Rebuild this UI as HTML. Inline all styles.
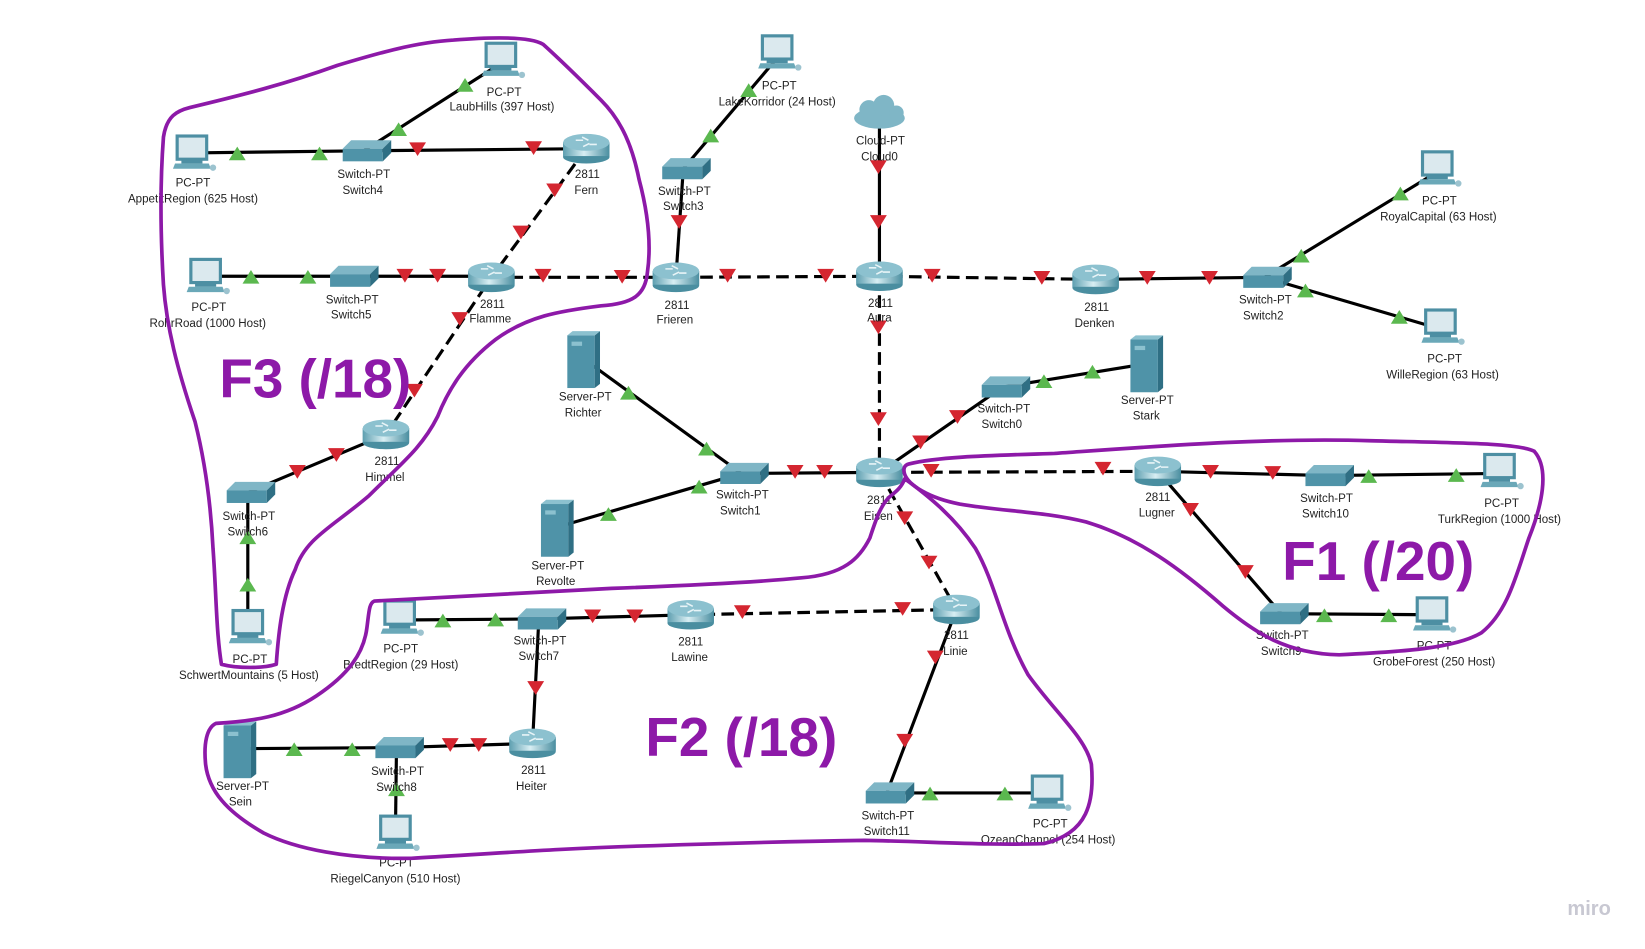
<!DOCTYPE html>
<html><head><meta charset="utf-8"><style>
html,body{margin:0;padding:0;background:#fff;}
svg{display:block}
text{font-family:"Liberation Sans",sans-serif;font-size:11px;fill:#222;text-anchor:middle}
.big{font-family:"Liberation Sans",sans-serif;font-weight:bold;font-size:52px;fill:#8d19a8;text-anchor:start}
</style></head><body>
<svg width="1645" height="949" viewBox="0 0 1560 900" preserveAspectRatio="none" xmlns="http://www.w3.org/2000/svg">
<defs>
<linearGradient id="rg" x1="0" x2="1"><stop offset="0" stop-color="#5e9fb0"/><stop offset=".45" stop-color="#d8eef3"/><stop offset="1" stop-color="#4a8ea0"/></linearGradient>
<g id="pc"><rect x="-14" y="-16" width="28" height="22" fill="#dbe9ee" stroke="#4d8fa3" stroke-width="3"/><rect x="-10" y="6" width="20" height="4" fill="#4d8fa3"/><polygon points="-16,10 16,10 18,15 -18,15" fill="#6aa8b8"/><circle cx="20" cy="14" r="3" fill="#9cc3cf"/></g>
<g id="sw"><polygon points="-20,-4 -12,-12 26,-12 18,-4" fill="#7fb6c6"/><rect x="-20" y="-4" width="38" height="12" fill="#4f93a8"/><polygon points="18,-4 26,-12 26,0 18,8" fill="#2f6f84"/></g>
<g id="rt"><rect x="-22" y="-6" width="44" height="14" fill="url(#rg)"/><ellipse cx="0" cy="8" rx="22" ry="6" fill="#4a8ea0"/><rect x="-22" y="-6" width="44" height="13" fill="url(#rg)"/><ellipse cx="0" cy="-6" rx="22" ry="8" fill="#8cc1cf"/><path d="M-10,-8 h7 M3,-4 h7 M-4,-11 l6,3 M-3,-2 l6,-3" stroke="#e8f4f7" stroke-width="1.5"/></g>
<g id="sv"><rect x="-15" y="-24" width="26" height="50" fill="#4f93a8"/><polygon points="11,-24 16,-28 16,22 11,26" fill="#2f6f84"/><polygon points="-15,-24 -10,-28 16,-28 11,-24" fill="#8cc1cf"/><rect x="-11" y="-18" width="10" height="4" fill="#8cc1cf"/></g>
<polygon id="g" points="0,-7 8,6 -8,6" fill="#5bb84f"/>
<polygon id="r" points="-8,-6 8,-6 0,7" fill="#d42630"/>
</defs>

<g stroke="#000" stroke-width="3" fill="none">
<path d="M182,145 L345,143 L556,141"/>
<path d="M345,143 L475,60"/>
<path d="M195,262 L466,262"/>
<path d="M648,160 L737,55"/>
<path d="M648,160 L641,263"/>
<path d="M834,110 L834,262"/>
<path d="M1039,265 L1199,263 L1363,163"/>
<path d="M1199,263 L1366,312"/>
<path d="M553,340 L703,449 L834,448"/>
<path d="M528,500 L703,449"/>
<path d="M834,448 L951,367 L1087,345"/>
<path d="M366,412 L235,467 L235,595"/>
<path d="M1098,447 L1258,451 L1422,449"/>
<path d="M1098,447 L1215,582 L1358,583"/>
<path d="M655,583 L511,587 L379,588"/>
<path d="M511,587 L505,705 L376,709 L227,710"/>
<path d="M376,709 L375,790"/>
<path d="M907,578 L841,752 L993,752"/>
</g>
<g stroke="#000" stroke-width="3" fill="none" stroke-dasharray="12,6">
<path d="M556,141 L466,263 L366,412"/>
<path d="M466,263 L641,263 L834,262 L1039,265"/>
<path d="M834,262 L834,448 L1098,447"/>
<path d="M834,448 L907,578 L655,583"/>
</g>

<use href="#g" x="225" y="146"/><use href="#g" x="303" y="146"/><use href="#r" x="396" y="141"/><use href="#r" x="506" y="140"/>
<use href="#g" x="378" y="123"/><use href="#g" x="441" y="81"/>
<use href="#r" x="526" y="180"/><use href="#r" x="494" y="220"/>
<use href="#g" x="238" y="263"/><use href="#g" x="292" y="263"/><use href="#r" x="384" y="261"/><use href="#r" x="415" y="261"/>
<use href="#r" x="515" y="261"/><use href="#r" x="590" y="262"/>
<use href="#r" x="436" y="302"/><use href="#r" x="393" y="370"/>
<use href="#r" x="319" y="431"/><use href="#r" x="282" y="447"/>
<use href="#g" x="235" y="510"/><use href="#g" x="235" y="555"/>
<use href="#g" x="674" y="129"/><use href="#g" x="710" y="86"/>
<use href="#r" x="644" y="210"/>
<use href="#r" x="690" y="261"/><use href="#r" x="783" y="261"/>
<use href="#r" x="833" y="158"/><use href="#r" x="833" y="210"/>
<use href="#r" x="884" y="261"/><use href="#r" x="988" y="263"/>
<use href="#r" x="1088" y="263"/><use href="#r" x="1147" y="263"/>
<use href="#g" x="1234" y="243"/><use href="#g" x="1328" y="184"/>
<use href="#g" x="1238" y="276"/><use href="#g" x="1327" y="301"/>
<use href="#r" x="833" y="310"/><use href="#r" x="833" y="397"/>
<use href="#g" x="596" y="373"/><use href="#g" x="670" y="426"/>
<use href="#g" x="577" y="488"/><use href="#g" x="663" y="462"/>
<use href="#r" x="754" y="447"/><use href="#r" x="782" y="447"/>
<use href="#r" x="873" y="419"/><use href="#r" x="908" y="395"/>
<use href="#g" x="990" y="362"/><use href="#g" x="1036" y="353"/>
<use href="#r" x="883" y="446"/><use href="#r" x="1046" y="444"/>
<use href="#r" x="1148" y="447"/><use href="#r" x="1207" y="448"/>
<use href="#g" x="1298" y="452"/><use href="#g" x="1381" y="451"/>
<use href="#r" x="1129" y="483"/><use href="#r" x="1181" y="542"/>
<use href="#g" x="1256" y="584"/><use href="#g" x="1317" y="584"/>
<use href="#r" x="858" y="491"/><use href="#r" x="881" y="533"/>
<use href="#r" x="856" y="577"/><use href="#r" x="704" y="580"/>
<use href="#r" x="602" y="584"/><use href="#r" x="562" y="584"/>
<use href="#g" x="470" y="588"/><use href="#g" x="420" y="589"/>
<use href="#r" x="508" y="652"/>
<use href="#r" x="454" y="706"/><use href="#r" x="427" y="706"/>
<use href="#g" x="334" y="711"/><use href="#g" x="279" y="711"/>
<use href="#g" x="376" y="749"/>
<use href="#r" x="887" y="623"/><use href="#r" x="858" y="702"/>
<use href="#g" x="882" y="753"/><use href="#g" x="953" y="753"/>

<use href="#pc" x="475" y="57"/><use href="#pc" x="182" y="145"/><use href="#pc" x="195" y="262"/><use href="#pc" x="737" y="50"/>
<use href="#pc" x="1363" y="160"/><use href="#pc" x="1366" y="310"/><use href="#pc" x="235" y="595"/><use href="#pc" x="1422" y="447"/>
<use href="#pc" x="1358" y="583"/><use href="#pc" x="379" y="586"/><use href="#pc" x="375" y="790"/><use href="#pc" x="993" y="752"/>
<use href="#sw" x="345" y="145"/><use href="#sw" x="333" y="264"/><use href="#sw" x="648" y="162"/><use href="#sw" x="1199" y="265"/>
<use href="#sw" x="951" y="369"/><use href="#sw" x="703" y="451"/><use href="#sw" x="235" y="469"/><use href="#sw" x="1258" y="453"/>
<use href="#sw" x="1215" y="584"/><use href="#sw" x="511" y="589"/><use href="#sw" x="376" y="711"/><use href="#sw" x="841" y="754"/>
<use href="#rt" x="556" y="141"/><use href="#rt" x="466" y="263"/><use href="#rt" x="641" y="263"/><use href="#rt" x="834" y="262"/>
<use href="#rt" x="1039" y="265"/><use href="#rt" x="834" y="448"/><use href="#rt" x="366" y="412"/><use href="#rt" x="1098" y="447"/>
<use href="#rt" x="907" y="578"/><use href="#rt" x="655" y="583"/><use href="#rt" x="505" y="705"/>
<use href="#sv" x="553" y="342"/><use href="#sv" x="1087" y="346"/><use href="#sv" x="528" y="502"/><use href="#sv" x="227" y="712"/>
<g fill="#7fb6c6"><ellipse cx="834" cy="112" rx="24" ry="10"/><circle cx="824" cy="104" r="9"/><circle cx="838" cy="100" r="10"/><circle cx="850" cy="107" r="7"/></g>

<text x="478" y="91">PC-PT</text><text x="476" y="105">LaubHills (397 Host)</text>
<text x="183" y="177">PC-PT</text><text x="183" y="192">AppetitRegion (625 Host)</text>
<text x="345" y="169">Switch-PT</text><text x="344" y="184">Switch4</text>
<text x="557" y="169">2811</text><text x="556" y="184">Fern</text>
<text x="198" y="295">PC-PT</text><text x="197" y="310">RohrRoad (1000 Host)</text>
<text x="334" y="288">Switch-PT</text><text x="333" y="302">Switch5</text>
<text x="467" y="292">2811</text><text x="465" y="306">Flamme</text>
<text x="642" y="293">2811</text><text x="640" y="307">Frieren</text>
<text x="649" y="185">Switch-PT</text><text x="648" y="199">Switch3</text>
<text x="739" y="85">PC-PT</text><text x="737" y="100">LakeKorridor (24 Host)</text>
<text x="835" y="137">Cloud-PT</text><text x="834" y="152">Cloud0</text>
<text x="835" y="291">2811</text><text x="834" y="305">Aura</text>
<text x="1040" y="295">2811</text><text x="1038" y="310">Denken</text>
<text x="1200" y="288">Switch-PT</text><text x="1198" y="303">Switch2</text>
<text x="1365" y="194">PC-PT</text><text x="1364" y="209">RoyalCapital (63 Host)</text>
<text x="1370" y="344">PC-PT</text><text x="1368" y="359">WilleRegion (63 Host)</text>
<text x="952" y="391">Switch-PT</text><text x="950" y="406">Switch0</text>
<text x="1088" y="383">Server-PT</text><text x="1087" y="398">Stark</text>
<text x="555" y="380">Server-PT</text><text x="553" y="395">Richter</text>
<text x="704" y="473">Switch-PT</text><text x="702" y="488">Switch1</text>
<text x="834" y="478">2811</text><text x="833" y="493">Eisen</text>
<text x="529" y="540">Server-PT</text><text x="527" y="555">Revolte</text>
<text x="367" y="441">2811</text><text x="365" y="456">Himmel</text>
<text x="236" y="493">Switch-PT</text><text x="235" y="508">Switch6</text>
<text x="237" y="629">PC-PT</text><text x="236" y="644">SchwertMountains (5 Host)</text>
<text x="1098" y="475">2811</text><text x="1097" y="490">Lugner</text>
<text x="1258" y="476">Switch-PT</text><text x="1257" y="491">Switch10</text>
<text x="1424" y="481">PC-PT</text><text x="1422" y="496">TurkRegion (1000 Host)</text>
<text x="1216" y="606">Switch-PT</text><text x="1215" y="621">Switch9</text>
<text x="1360" y="616">PC-PT</text><text x="1360" y="631">GrobeForest (250 Host)</text>
<text x="907" y="606">2811</text><text x="906" y="621">Linie</text>
<text x="655" y="612">2811</text><text x="654" y="627">Lawine</text>
<text x="512" y="611">Switch-PT</text><text x="511" y="626">Switch7</text>
<text x="380" y="619">PC-PT</text><text x="380" y="634">BredtRegion (29 Host)</text>
<text x="506" y="734">2811</text><text x="504" y="749">Heiter</text>
<text x="377" y="735">Switch-PT</text><text x="376" y="750">Switch8</text>
<text x="230" y="749">Server-PT</text><text x="228" y="764">Sein</text>
<text x="376" y="822">PC-PT</text><text x="375" y="837">RiegelCanyon (510 Host)</text>
<text x="842" y="777">Switch-PT</text><text x="841" y="792">Switch11</text>
<text x="996" y="785">PC-PT</text><text x="994" y="800">OzeanChannel (254 Host)</text>

<g stroke="#8d19a8" stroke-width="3.5" fill="none" stroke-linejoin="round" stroke-linecap="round">
<path d="M430,38 C480,34 505,36 515,42 C535,60 555,80 570,95 C590,115 600,140 606,170 C614,200 618,230 614,258 C612,280 600,288 570,290 C530,295 500,300 470,322 C440,345 425,370 415,395 C400,425 380,440 350,470 C315,500 290,510 280,540 C268,565 264,600 262,630 C250,634 225,634 210,630 C205,600 205,560 202,520 C200,480 195,440 185,400 C168,350 158,310 155,270 C152,220 152,170 155,130 C158,110 168,105 180,102 C230,90 270,80 320,62 C360,50 395,40 430,38 Z"/>
<path d="M862,440 C890,433 940,432 1000,430 C1100,423 1200,415 1300,418 C1380,420 1440,420 1455,428 C1470,445 1462,480 1450,510 C1438,545 1430,580 1405,600 C1380,615 1330,618 1270,621 C1220,620 1190,600 1160,575 C1120,540 1080,510 1030,495 C990,485 950,485 910,478 C880,472 862,460 858,450 C856,444 858,441 862,440 Z"/>
<path d="M858,454 C880,470 905,490 925,520 C945,555 950,595 975,640 C1000,675 1030,700 1035,725 C1038,760 1032,790 990,800 C940,802 880,798 820,797 C750,798 680,800 620,802 C540,804 460,810 390,814 C330,815 280,805 250,790 C215,770 198,750 195,725 C193,705 196,690 205,686 C240,684 270,680 300,660 C330,640 345,620 348,595 C350,580 350,572 355,570 C420,566 500,562 580,558 C660,555 720,552 760,548 C800,545 815,530 825,510 C830,495 835,478 845,470 C850,466 855,462 858,454 Z"/>
</g>
<text class="big" x="208" y="377">F3 (/18)</text>
<text class="big" x="1216" y="550">F1 (/20)</text>
<text class="big" x="612" y="717">F2 (/18)</text>
<text x="1507" y="868" style="font-size:19px;fill:#c8c8d2;font-weight:bold">miro</text>
</svg>
</body></html>
